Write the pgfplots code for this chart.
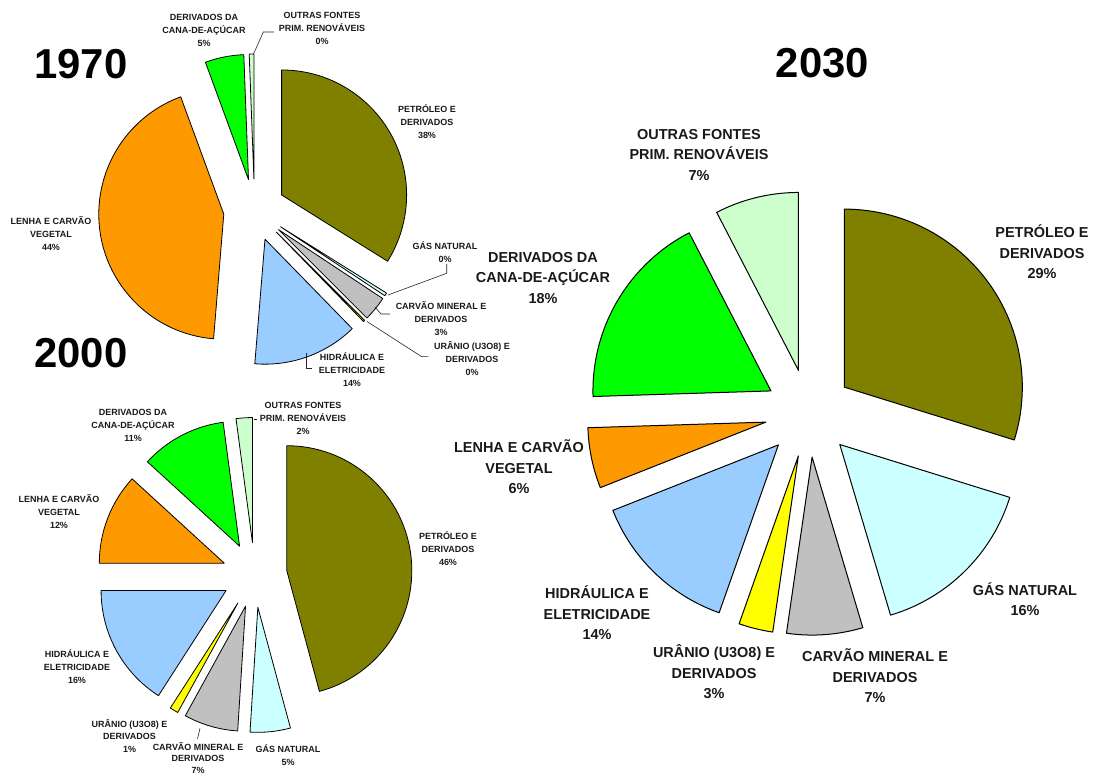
\documentclass[border=0pt]{standalone}
\usepackage{fontspec}
\setmainfont{Liberation Sans}
\usepackage{pgfplots}
\usepackage{pgfplotstable}
\pgfplotsset{compat=1.18}

\definecolor{petroleo}{RGB}{128,128,0}
\definecolor{gas}{RGB}{204,255,255}
\definecolor{carvao}{RGB}{192,192,192}
\definecolor{uranio}{RGB}{255,255,0}
\definecolor{hidraulica}{RGB}{153,204,255}
\definecolor{lenha}{RGB}{255,153,0}
\definecolor{cana}{RGB}{0,255,0}
\definecolor{outras}{RGB}{204,255,204}

% shares in % (clockwise from 12 o'clock, as in the original)
\pgfplotstableread{
fonte      share
petroleo   33.9
gas        0.4
carvao     3.2
uranio     0.2
hidraulica 13.6
lenha      43.1
cana       5.0
outras     0.6
}\dataA
\pgfplotstableread{
fonte      share
petroleo   45.8
gas        5.2
carvao     7.0
uranio     1.1
hidraulica 15.9
lenha      11.8
cana       11.1
outras     2.1
}\dataB
\pgfplotstableread{
fonte      share
petroleo   29.8
gas        15.6
carvao     6.9
uranio     3.1
hidraulica 13.6
lenha      5.5
cana       17.9
outras     7.6
}\dataC

\newcommand\smallf{\fontsize{9}{13}\selectfont\bfseries}
\newcommand\bigf{\fontsize{14.5}{20.5}\selectfont\bfseries}
\newcommand\titf{\fontsize{42}{42}\selectfont\bfseries}

% exploded pie: #1 table, #2 cx, #3 cy, #4 radius, #5 explode, #6 line width
\newcommand\drawpie[6]{%
  \pgfplotstablegetrowsof{#1}%
  \pgfmathtruncatemacro\lastrow{\pgfplotsretval-1}%
  \xdef\piecum{90}%
  \pgfplotsinvokeforeach{0,...,\lastrow}{%
    \pgfplotstablegetelem{##1}{share}\of{#1}\let\sh\pgfplotsretval
    \pgfplotstablegetelem{##1}{fonte}\of{#1}\let\col\pgfplotsretval
    \pgfmathsetmacro\aone{\piecum}%
    \pgfmathsetmacro\atwo{\piecum-3.6*\sh}%
    \pgfmathsetmacro\amid{(\aone+\atwo)/2}%
    \pgfmathsetmacro\px{#2+#5*cos(\amid)}%
    \pgfmathsetmacro\py{#3+#5*sin(\amid)}%
    \pgfmathsetmacro\qx{\px+#4*cos(\aone)}%
    \pgfmathsetmacro\qy{\py+#4*sin(\aone)}%
    \xdef\piecum{\atwo}%
    \edef\wedge{\noexpand\filldraw[fill=\col, draw=black, line width=#6bp, line join=round]
      (axis cs:\px,\py) -- (axis cs:\qx,\qy)
      arc[start angle=\aone, end angle=\atwo, radius=#4bp] -- cycle;}%
    \wedge
  }%
}

\begin{document}
\begin{tikzpicture}
\begin{axis}[
  x=1bp, y=1bp,
  xmin=0, xmax=1097, ymin=0, ymax=776,
  enlargelimits=false,
  hide axis,
  clip=false,
  ]
  \addplot[draw=none, forget plot] coordinates {(0,0) (1097,776)};

  \drawpie{\dataA}{254.5}{566}{125}{31}{0.8}
  \drawpie{\dataB}{254.6}{201}{125}{32.5}{0.8}
  \drawpie{\dataC}{808.9}{362.8}{178}{44}{1}

  % titles
  \node[font=\titf] at (axis cs:81,712) {1970};
  \node[font=\titf] at (axis cs:81,423) {2000};
  \node[font=\titf] at (axis cs:822.5,712.7) {2030};

  % 1970 labels
  \begin{scope}[every node/.style={font=\smallf, align=center, text=black!90, inner sep=0pt}]
    \node at (axis cs:204,746) {DERIVADOS DA\\CANA-DE-AÇÚCAR\\5\%};
    \node at (axis cs:322,747.7) {OUTRAS FONTES\\PRIM. RENOVÁVEIS\\0\%};
    \node at (axis cs:427,654.3) {PETRÓLEO E\\DERIVADOS\\38\%};
    \node at (axis cs:51,542.7) {LENHA E CARVÃO\\VEGETAL\\44\%};
    \node at (axis cs:445,524.3) {GÁS NATURAL\\0\%};
    \node at (axis cs:441,457.7) {CARVÃO MINERAL E\\DERIVADOS\\3\%};
    \node at (axis cs:472,417.7) {URÂNIO (U3O8) E\\DERIVADOS\\0\%};
    \node at (axis cs:352,406) {HIDRÁULICA E\\ELETRICIDADE\\14\%};
  % 2000 labels
    \node at (axis cs:133,351) {DERIVADOS DA\\CANA-DE-AÇÚCAR\\11\%};
    \node at (axis cs:303,357.7) {OUTRAS FONTES\\PRIM. RENOVÁVEIS\\2\%};
    \node at (axis cs:59,264.3) {LENHA E CARVÃO\\VEGETAL\\12\%};
    \node at (axis cs:448,227.7) {PETRÓLEO E\\DERIVADOS\\46\%};
    \node at (axis cs:77,109.3) {HIDRÁULICA E\\ELETRICIDADE\\16\%};
    \node at (axis cs:129.5,40) {URÂNIO (U3O8) E\\DERIVADOS\\1\%};
    \node[font=\fontsize{9}{12}\selectfont\bfseries] at (axis cs:198,18) {CARVÃO MINERAL E\\DERIVADOS\\7\%};
    \node at (axis cs:288,21) {GÁS NATURAL\\5\%};
  \end{scope}

  % 2030 labels
  \begin{scope}[every node/.style={font=\bigf, align=center, text=black!90, inner sep=0pt}]
    \node at (axis cs:699,621) {OUTRAS FONTES\\PRIM. RENOVÁVEIS\\7\%};
    \node at (axis cs:1042,524.3) {PETRÓLEO E\\DERIVADOS\\29\%};
    \node at (axis cs:543,498) {DERIVADOS DA\\CANA-DE-AÇÚCAR\\18\%};
    \node at (axis cs:519,309.3) {LENHA E CARVÃO\\VEGETAL\\6\%};
    \node at (axis cs:597,163.3) {HIDRÁULICA E\\ELETRICIDADE\\14\%};
    \node at (axis cs:1025,177) {GÁS NATURAL\\16\%};
    \node at (axis cs:714,104.3) {URÂNIO (U3O8) E\\DERIVADOS\\3\%};
    \node at (axis cs:875,100) {CARVÃO MINERAL E\\DERIVADOS\\7\%};
  \end{scope}

  % leader lines
  \begin{scope}[line width=0.6bp, black!85]
    \draw (axis cs:253.5,722) -- (axis cs:263.3,744) -- (axis cs:274,744);
    \draw (axis cs:388,481) -- (axis cs:446.7,502.7) -- (axis cs:446.7,512);
    \draw (axis cs:375,469) -- (axis cs:381,462) -- (axis cs:390,462);
    \draw (axis cs:367,454.5) -- (axis cs:421.7,419.3) -- (axis cs:428.3,419.3);
    \draw (axis cs:306.7,422.7) -- (axis cs:306.7,407.7) -- (axis cs:312,407.7);
    \draw (axis cs:253.5,357) -- (axis cs:257,357);
    \draw (axis cs:200,47.7) -- (axis cs:197.5,37);
  \end{scope}
\end{axis}
\pgfresetboundingbox
\path[use as bounding box] (0,0) rectangle (1097bp,776bp);
\end{tikzpicture}
\end{document}
